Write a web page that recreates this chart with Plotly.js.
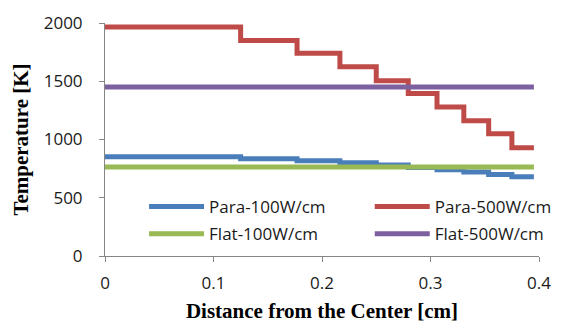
<!DOCTYPE html>
<html><head><meta charset="utf-8">
<script src="https://cdn.plot.ly/plotly-3.0.1.min.js"></script>
<style>html,body{margin:0;padding:0;background:#fff}</style>
</head><body>
<div id="chart" style="width:569px;height:325px"></div>
<script>
// Step positions (cm)
var stepX = [0, 0.125, 0.177, 0.2165, 0.25, 0.2795, 0.306, 0.3307, 0.3536, 0.375, 0.3953];
var para100 = [852, 835, 817, 800, 782, 760, 740, 720, 700, 680, 680];
var para500 = [1965, 1850, 1740, 1625, 1505, 1395, 1280, 1160, 1050, 930, 930];
var flatX = [0, 0.3953];
var flat100 = [765, 765];
var flat500 = [1450, 1450];
var seriesNames = ["Para-100W/cm", "Para-500W/cm", "Flat-100W/cm", "Flat-500W/cm"];
var xTicks = [0, 0.1, 0.2, 0.3, 0.4];
var xTickText = ["0", "0.1", "0.2", "0.3", "0.4"];
var yTicks = [0, 500, 1000, 1500, 2000];

var lw = 5;
var traces = [
  {x: stepX, y: para100, name: seriesNames[0], legend: "legend", mode: "lines", line: {color: "#4a7ebb", width: lw, shape: "hv"}},
  {x: stepX, y: para500, name: seriesNames[1], legend: "legend2", mode: "lines", line: {color: "#be4b48", width: lw, shape: "hv"}},
  {x: flatX, y: flat100, name: seriesNames[2], legend: "legend3", mode: "lines", line: {color: "#98b954", width: lw}},
  {x: flatX, y: flat500, name: seriesNames[3], legend: "legend4", mode: "lines", line: {color: "#7d60a0", width: lw}}
];

var sans = "Open Sans, Noto Sans, sans-serif";
var tickFont = {family: sans, size: 17, color: "#1a1a1a"};
function leg(x, y) {
  return {x: x, y: y, xanchor: "left", yanchor: "middle", itemwidth: 55,
    font: {family: sans, size: 17, color: "#1a1a1a"}, bgcolor: "rgba(0,0,0,0)", borderwidth: 0};
}
var layout = {
  width: 569, height: 325,
  margin: {l: 105, r: 25, t: 23, b: 69},
  paper_bgcolor: "#fff", plot_bgcolor: "#fff",
  showlegend: true,
  legend: leg(0.09, 0.21),
  legend2: leg(0.61, 0.21),
  legend3: leg(0.09, 0.094),
  legend4: leg(0.61, 0.094),
  xaxis: {
    range: [0, 0.4], tickvals: xTicks, ticktext: xTickText,
    showgrid: false, zeroline: false, showline: true, linecolor: "#868686", linewidth: 1,
    ticks: "outside", ticklen: 5, tickcolor: "#868686", ticklabelstandoff: 7,
    tickfont: tickFont,
    title: {text: "Distance from the Center [cm]", font: {family: "Liberation Serif, serif", size: 21, color: "#000", weight: "bold"}, standoff: 9}
  },
  yaxis: {
    range: [0, 2000], tickvals: yTicks,
    showgrid: false, zeroline: false, showline: true, linecolor: "#868686", linewidth: 1,
    ticks: "outside", ticklen: 5, tickcolor: "#868686", ticklabelstandoff: 13,
    tickfont: tickFont,
    title: {text: "Temperature [K]", font: {family: "Liberation Serif, serif", size: 21, color: "#000", weight: "bold"}, standoff: 9}
  }
};
Plotly.newPlot("chart", traces, layout, {staticPlot: true, displayModeBar: false});
</script>
</body></html>
